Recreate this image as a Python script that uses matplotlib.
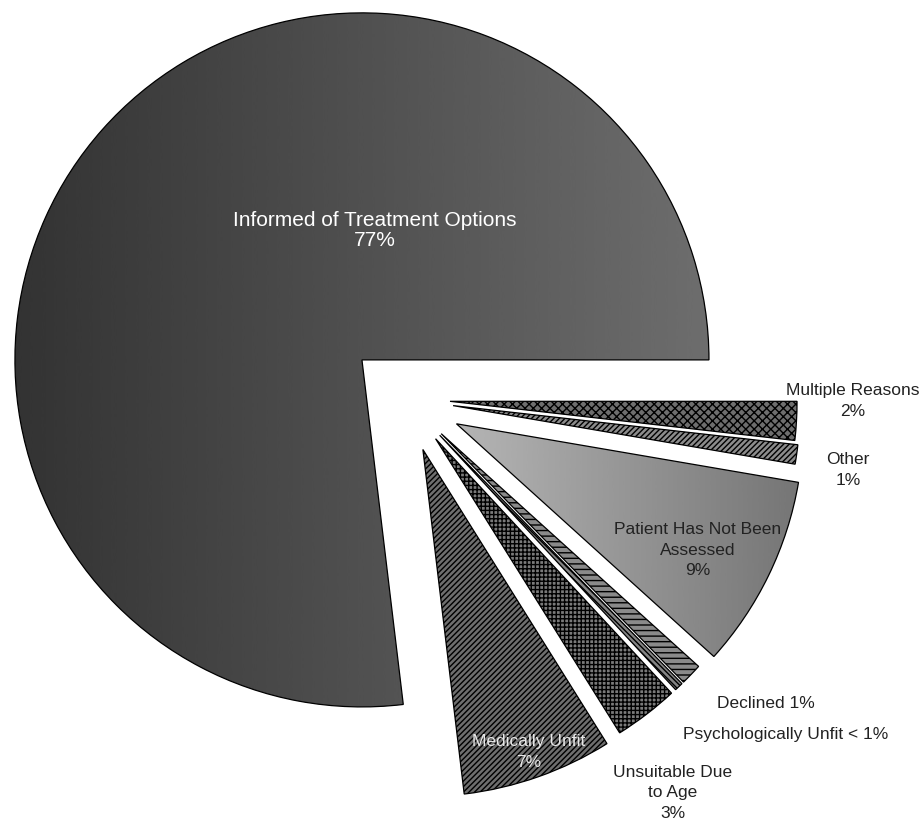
import numpy as np
import matplotlib.pyplot as plt

# slices, counter-clockwise from 3 o'clock
names = ["Informed of Treatment Options", "Medically Unfit", "Unsuitable Due\nto Age",
         "Psychologically Unfit", "Declined", "Patient Has Not Been\nAssessed",
         "Other", "Multiple Reasons"]
values = [76.9, 7.0, 3.0, 0.4, 1.0, 9.0, 0.9, 1.8]
pct_labels = ["77%", "7%", "3%", "< 1%", "1%", "9%", "1%", "2%"]

# styling / layout
explode = [0, 0.155, 0.145, 0.145, 0.145, 0.165, 0.14, 0.13]
group_shift = (0.124, -0.112)
hatches = [None, "//////", "++++", "\\\\\\\\\\\\", "---", None, "//////", "xxxx"]
facecolors = ["none", "#6e6e6e", "#7a7a7a", "#848484", "#8a8a8a", "none", "#8c8c8c", "#6e6e6e"]
gradients = {0: (-1.0, 1.0, 0.20, 0.43), 5: (0.27, 1.26, 0.71, 0.46)}
label_pos = [(0.037, 0.376), (0.481, -1.127), (0.896, -1.245), (1.221, -1.078),
             (1.164, -0.986), (0.968, -0.545), (1.401, -0.314), (1.415, -0.115)]
same_line = [False, False, False, True, True, False, False, False]
text_colors = ["white", "#e8e8e8", "#222222", "#222222", "#222222", "#222222", "#222222", "#222222"]

plt.rcParams['font.family'] = ['Liberation Sans', 'DejaVu Sans']
plt.rcParams['hatch.linewidth'] = 1.0

fig = plt.figure(figsize=(9.21, 8.2), dpi=100)
ax = fig.add_axes([0, 0, 1, 1])

wedges, _ = ax.pie(values, explode=explode, startangle=0, counterclock=True, radius=1,
                   wedgeprops=dict(linewidth=0.9, edgecolor="black"))

for i, w in enumerate(wedges):
    w.set_facecolor(facecolors[i])
    if hatches[i]:
        w.set_hatch(hatches[i])
    if i > 0:
        cx, cy = w.center
        w.set_center((cx + group_shift[0], cy + group_shift[1]))

for i, (x0, x1, g0, g1) in gradients.items():
    grad = np.linspace(g0, g1, 256).reshape(1, -1)
    im = ax.imshow(grad, cmap="gray", vmin=0, vmax=1, extent=(x0, x1, -1.4, 1.1),
                   aspect="auto", zorder=0.5, interpolation="bicubic")
    im.set_clip_path(wedges[i])

for i, name in enumerate(names):
    sep = " " if same_line[i] else "\n"
    size = 15 if i == 0 else 12.5
    ax.text(label_pos[i][0], label_pos[i][1], name + sep + pct_labels[i],
            ha="center", va="center", fontsize=size, color=text_colors[i],
            linespacing=1.05 if i == 0 else 1.45, zorder=5)

ax.set_xlim(-1.043, 1.611)
ax.set_ylim(-1.323, 1.040)
ax.set_aspect("equal")
ax.axis("off")

fig.savefig("out.png", dpi=100)
